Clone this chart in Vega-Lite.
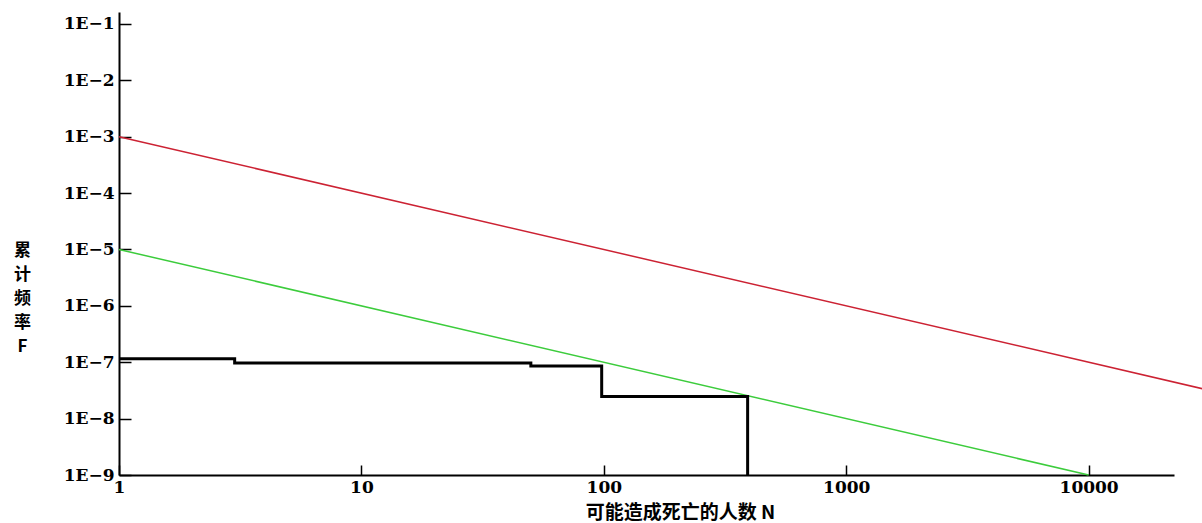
{
  "$schema": "https://vega.github.io/schema/vega-lite/v6.json",
  "width": 1055,
  "height": 463,
  "autosize": {"type": "none"},
  "padding": {"left": 119, "top": 12, "right": 28, "bottom": 48},
  "background": "white",
  "config": {
    "view": {"stroke": null},
    "axis": {
      "grid": false,
      "domainColor": "black",
      "domainWidth": 2,
      "tickColor": "black",
      "tickWidth": 1.5,
      "labelColor": "black",
      "labelFont": "DejaVu Serif",
      "labelFontWeight": "bold",
      "labelFontSize": 17,
      "titleColor": "black",
      "titleFont": "Noto Sans CJK SC",
      "titleFontWeight": "bold"
    }
  },
  "data": {
    "values": [
      {"series": "red", "i": 0, "N": 1, "F": 0.001},
      {"series": "red", "i": 1, "N": 30000, "F": 3.333e-8},
      {"series": "green", "i": 0, "N": 1, "F": 0.00001},
      {"series": "green", "i": 1, "N": 10000, "F": 1e-9},
      {"series": "fn", "i": 0, "N": 1, "F": 1.15e-7},
      {"series": "fn", "i": 1, "N": 3, "F": 1.15e-7},
      {"series": "fn", "i": 2, "N": 3, "F": 9.7e-8},
      {"series": "fn", "i": 3, "N": 50, "F": 9.7e-8},
      {"series": "fn", "i": 4, "N": 50, "F": 8.6e-8},
      {"series": "fn", "i": 5, "N": 98, "F": 8.6e-8},
      {"series": "fn", "i": 6, "N": 98, "F": 2.47e-8},
      {"series": "fn", "i": 7, "N": 392, "F": 2.47e-8},
      {"series": "fn", "i": 8, "N": 392, "F": 1e-9}
    ]
  },
  "encoding": {
    "x": {
      "field": "N",
      "type": "quantitative",
      "scale": {"type": "log", "domain": [1, 22500], "nice": false},
      "axis": {
        "values": [1, 10, 100, 1000, 10000],
        "format": "d",
        "tickSize": -10,
        "labelPadding": 14,
        "labelFlush": false,
        "labelOverlap": false,
        "title": "可能造成死亡的人数  N",
        "titleFontSize": 19,
        "titleX": 561,
        "titleY": 37,
        "titleBaseline": "middle",
        "titleAnchor": null,
        "titleAlign": "center"
      }
    },
    "y": {
      "field": "F",
      "type": "quantitative",
      "scale": {"type": "log", "domain": [1e-9, 0.163], "nice": false},
      "axis": {
        "values": [1e-9, 1e-8, 1e-7, 1e-6, 1e-5, 1e-4, 1e-3, 1e-2, 1e-1],
        "labelExpr": "'1E−' + round(-log(datum.value)/LN10)",
        "tickSize": -12,
        "labelPadding": 17,
        "labelFlush": false,
        "labelOverlap": false,
        "title": ["累", "计", "频", "率", "F"],
        "titleFontSize": 17,
        "titleLineHeight": 24,
        "titleAngle": 0,
        "titleX": -97,
        "titleY": 230,
        "titleBaseline": "top",
        "titleAlign": "center",
        "titleAnchor": null
      }
    },
    "order": {"field": "i", "type": "quantitative"}
  },
  "layer": [
    {
      "transform": [{"filter": "datum.series === 'red'"}],
      "mark": {"type": "line", "color": "#cc2233", "strokeWidth": 1.5, "clip": false}
    },
    {
      "transform": [{"filter": "datum.series === 'green'"}],
      "mark": {"type": "line", "color": "#3ccc3c", "strokeWidth": 1.5}
    },
    {
      "transform": [{"filter": "datum.series === 'fn'"}],
      "mark": {"type": "line", "color": "black", "strokeWidth": 3, "strokeJoin": "miter", "strokeCap": "butt"}
    }
  ]
}
